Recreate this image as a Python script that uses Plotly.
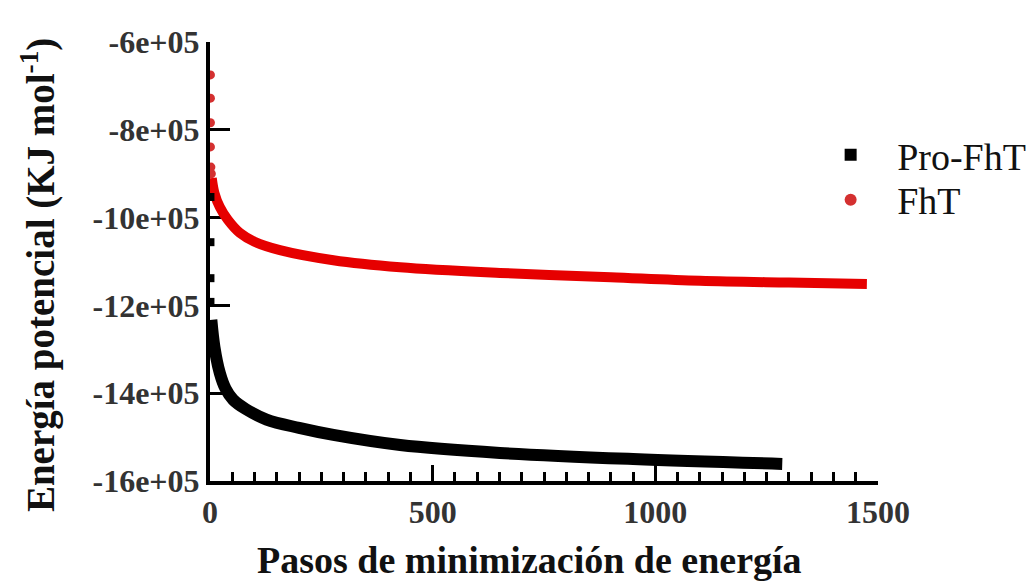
import plotly.graph_objects as go

# ---- data ----
pro_init_steps = [1, 1, 1, 1]
pro_init_energy = [-9.53e5, -10.56e5, -11.38e5, -11.92e5]
pro_steps = [3, 10, 22, 35, 52, 80, 127, 200, 277, 427, 651, 950, 1285]
pro_energy = [-12.33e5, -12.95e5, -13.54e5, -13.9e5, -14.15e5, -14.36e5, -14.6e5,
              -14.79e5, -14.95e5, -15.18e5, -15.36e5, -15.50e5, -15.61e5]

fht_init_steps = [1, 1, 1, 1, 2, 3]
fht_init_energy = [-6.75e5, -7.28e5, -7.84e5, -8.39e5, -8.85e5, -9.0e5]
fht_steps = [4, 10, 22, 40, 67, 100, 157, 277, 427, 651, 900, 1100, 1300, 1475]
fht_energy = [-9.1e5, -9.44e5, -9.76e5, -10.05e5, -10.35e5, -10.55e5, -10.74e5,
              -10.97e5, -11.13e5, -11.26e5, -11.36e5, -11.44e5, -11.48e5, -11.51e5]

y_tickvals = [-6e5, -8e5, -10e5, -12e5, -14e5, -16e5]
y_ticktext = ["-6e+05", "-8e+05", "-10e+05", "-12e+05", "-14e+05", "-16e+05"]
x_tickvals = [0, 500, 1000, 1500]

BLACK = "#000000"
RED = "#e60000"
DOT_RED = "#d43030"
FONT = "Liberation Serif, Times New Roman, serif"

fig = go.Figure()

# continuous bands
fig.add_trace(go.Scatter(x=pro_steps, y=pro_energy, mode="lines",
                         line=dict(color=BLACK, width=12, shape="spline"),
                         showlegend=False, hoverinfo="skip"))
fig.add_trace(go.Scatter(x=fht_steps, y=fht_energy, mode="lines",
                         line=dict(color=RED, width=10, shape="spline"),
                         showlegend=False, hoverinfo="skip"))

# discrete markers (legend entries)
fig.add_trace(go.Scatter(x=pro_init_steps, y=pro_init_energy, mode="markers",
                         name="Pro-FhT", legend="legend",
                         marker=dict(symbol="square", color=BLACK, size=8)))
fig.add_trace(go.Scatter(x=fht_init_steps, y=fht_init_energy, mode="markers",
                         name="FhT", legend="legend2",
                         marker=dict(symbol="circle", color=DOT_RED, size=9)))

leg_common = dict(xref="container", yref="container", xanchor="left", yanchor="middle",
                  font=dict(family=FONT, size=38, color="#111111"),
                  bgcolor="rgba(0,0,0,0)", itemsizing="constant", itemwidth=83)

fig.update_layout(
    width=1027, height=583,
    margin=dict(l=210, r=149, t=42, b=102, autoexpand=False),
    paper_bgcolor="white", plot_bgcolor="white",
    font=dict(family=FONT, color="#222222"),
    legend=dict(x=0.783, y=0.734, **leg_common),
    legend2=dict(x=0.783, y=0.657, **leg_common),
    showlegend=True,
)

fig.update_xaxes(
    range=[0, 1500], tickvals=x_tickvals, ticktext=[str(v) for v in x_tickvals],
    showline=True, linecolor=BLACK, linewidth=4, showgrid=False, zeroline=False,
    ticks="inside", ticklen=16, tickwidth=3, tickcolor=BLACK,
    minor=dict(dtick=50, ticks="inside", ticklen=9, tickwidth=3, tickcolor=BLACK, showgrid=False),
    tickfont=dict(family=FONT, size=32, weight="bold", color="#333333"),
    layer="below traces", automargin=False,
)
fig.update_yaxes(
    range=[-16e5, -6e5], tickvals=y_tickvals, ticktext=y_ticktext,
    showline=True, linecolor=BLACK, linewidth=4, showgrid=False, zeroline=False,
    ticks="inside", ticklen=20, tickwidth=3, tickcolor=BLACK,
    tickfont=dict(family=FONT, size=32, weight="bold", color="#333333"),
    layer="below traces", automargin=False,
)

# axis titles
fig.add_annotation(text="Pasos de minimización de energía", xref="paper", yref="paper",
                   x=0.479, y=-0.18, xanchor="center", yanchor="middle", showarrow=False,
                   font=dict(family=FONT, size=38, weight="bold", color="#111111"))
fig.add_annotation(text="Energía potencial (KJ mol<sup>-1</sup>)", xref="paper", yref="paper",
                   x=-0.2575, y=0.469, xanchor="center", yanchor="middle", showarrow=False,
                   textangle=-90,
                   font=dict(family=FONT, size=39, weight="bold", color="#111111"))

fig.write_html("out.html")
